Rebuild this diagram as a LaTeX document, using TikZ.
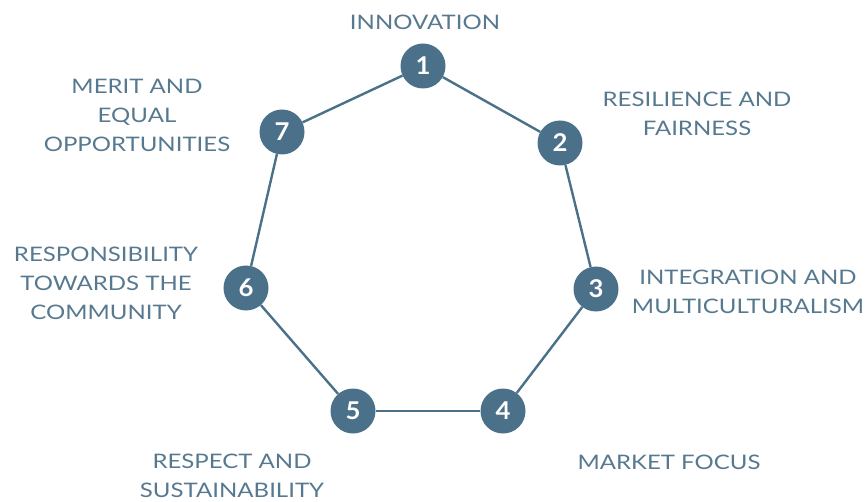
\documentclass[tikz,border=0pt]{standalone}
\usepackage{fontspec}
\setmainfont{Lato}[FakeStretch=1.2]
\newfontfamily\numfont{Lato}[FakeStretch=1.05]
\definecolor{dotc}{HTML}{4B7089}
\definecolor{txtc}{HTML}{56798F}
\begin{document}
\begin{tikzpicture}[x=1pt,y=-1pt,
  dot/.style={circle,fill=dotc,minimum size=45pt,inner sep=0pt,text=white,font=\numfont\fontsize{24.5}{24.5}\selectfont\bfseries},
  lbl/.style={text=txtc,align=center,font=\fontsize{20}{29}\selectfont,inner sep=0pt},
  edge/.style={draw=dotc,line width=2.4pt}]
\useasboundingbox (0,0) rectangle (866,502);
\node[dot] (n1) at (423,66) {1};
\node[dot] (n2) at (560,143) {2};
\node[dot] (n3) at (596,289) {3};
\node[dot] (n4) at (503,411) {4};
\node[dot] (n5) at (353,411) {5};
\node[dot] (n6) at (246,288) {6};
\node[dot] (n7) at (282,132) {7};
\draw[edge] (n1) -- (n2);
\draw[edge] (n2) -- (n3);
\draw[edge] (n3) -- (n4);
\draw[edge] (n4) -- (n5);
\draw[edge] (n5) -- (n6);
\draw[edge] (n6) -- (n7);
\draw[edge] (n7) -- (n1);
\node[lbl] (l1) at (425,22) {INNOVATION};
\node[lbl] (l2) at (697,114) {RESILIENCE AND\\FAIRNESS};
\node[lbl] (l3) at (748,292) {INTEGRATION AND\\MULTICULTURALISM};
\node[lbl] (l4) at (669,462) {MARKET FOCUS};
\node[lbl] (l5) at (232,476) {RESPECT AND\\SUSTAINABILITY};
\node[lbl] (l6) at (106,283) {RESPONSIBILITY\\TOWARDS THE\\COMMUNITY};
\node[lbl] (l7) at (137,115) {MERIT AND\\EQUAL\\OPPORTUNITIES};
\end{tikzpicture}
\end{document}
